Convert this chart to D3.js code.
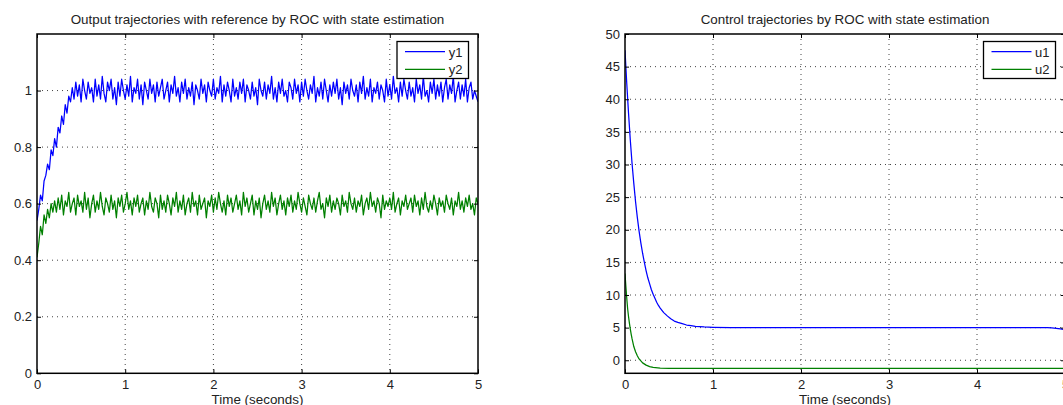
<!DOCTYPE html>
<html>
<head>
<meta charset="utf-8">
<script src="https://cdn.jsdelivr.net/npm/d3@7"></script>
<style>
  html, body { margin: 0; padding: 0; background: #ffffff; }
  svg { display: block; }
  text { font-family: "Liberation Sans", Arial, Helvetica, sans-serif; fill: #222; }
</style>
</head>
<body>
<svg id="chart" width="1063" height="405"></svg>
<script>
// ---------------- DATA ----------------
const sampleStep = 0.02; // sample time of the output trajectories (s)

const y1 = [
  0.54, 0.58, 0.63, 0.61, 0.68, 0.70, 0.74, 0.72, 0.79, 0.77, 0.83, 0.80, 0.87, 0.85, 0.91, 0.88, 0.95, 0.92, 0.98, 0.96, 1.01,
  0.97, 1.03, 0.98, 1.02, 0.96, 1.04, 1.00, 0.97, 1.03, 0.99,
  1.01, 0.96, 1.04, 0.98, 1.02, 0.97, 1.05, 0.99, 0.96, 1.03,
  1.00, 1.04, 0.97, 1.01, 0.95, 1.03, 0.98, 1.04, 1.00, 0.97,
  1.02, 0.98, 1.05, 0.96, 1.01, 0.99, 1.04, 0.97, 1.02, 0.95,
  1.03, 1.00, 0.97, 1.04, 0.99, 1.02, 0.96, 1.03, 0.98, 1.01,
  1.04, 0.97, 1.00, 1.03, 0.96, 1.02, 0.99, 1.05, 0.98, 1.01,
  0.96, 1.03, 0.99, 1.04, 0.97, 1.01, 0.98, 1.03, 0.95, 1.02,
  1.00, 0.97, 1.04, 0.99, 1.02, 0.96, 1.03, 1.00, 0.98, 1.04,
  0.97, 1.01, 0.99, 1.05, 0.96, 1.02, 0.98, 1.03, 1.00, 0.96,
  1.04, 0.98, 1.01, 0.97, 1.03, 0.99, 1.04, 0.96, 1.02, 1.00,
  0.97, 1.03, 0.98, 1.01, 0.95, 1.04, 1.00, 0.98, 1.03, 0.97,
  1.02, 0.99, 1.05, 0.97, 1.01, 0.96, 1.03, 0.99, 1.04, 0.98,
  1.00, 0.96, 1.03, 1.01, 0.97, 1.04, 0.99, 1.02, 0.96, 1.03,
  0.98, 1.04, 1.00, 0.97, 1.02, 0.99, 1.05, 0.96, 1.01, 0.98,
  1.03, 0.97, 1.04, 1.00, 0.96, 1.02, 0.98, 1.03, 0.99, 1.04,
  0.97, 1.01, 0.95, 1.03, 0.99, 1.02, 0.97, 1.04, 1.00, 0.98,
  1.02, 0.96, 1.03, 0.99, 1.05, 0.97, 1.01, 0.98, 1.04, 0.96,
  1.01, 0.99, 1.03, 0.97, 1.02, 1.00, 0.96, 1.04, 0.98, 1.02,
  0.97, 1.05, 0.99, 1.01, 0.96, 1.03, 0.98, 1.04, 1.00, 0.97,
  1.03, 0.98, 1.01, 0.96, 1.04, 0.99, 1.02, 0.97, 1.05, 0.98,
  1.00, 0.96, 1.03, 0.99, 1.04, 0.97, 1.02, 0.98, 1.03, 0.96,
  1.01, 1.04, 0.97, 1.02, 0.99, 1.05, 0.96, 1.00, 1.03, 0.97,
  1.02, 0.98, 1.04, 0.96, 1.01, 1.03, 0.97, 1.00, 0.98, 0.96
];

const y2 = [
  0.41, 0.46, 0.52, 0.49, 0.56, 0.53, 0.58, 0.55, 0.60, 0.57, 0.61,
  0.57, 0.62, 0.58, 0.63, 0.56, 0.61, 0.59, 0.64, 0.57, 0.60,
  0.62, 0.56, 0.63, 0.59, 0.61, 0.57, 0.64, 0.58, 0.62, 0.55,
  0.60, 0.63, 0.57, 0.61, 0.58, 0.64, 0.59, 0.56, 0.62, 0.60,
  0.57, 0.63, 0.58, 0.61, 0.55, 0.62, 0.59, 0.63, 0.57, 0.60,
  0.64, 0.58, 0.61, 0.56, 0.62, 0.59, 0.63, 0.57, 0.60, 0.62,
  0.56, 0.61, 0.58, 0.64, 0.59, 0.57, 0.62, 0.60, 0.55, 0.63,
  0.58, 0.61, 0.57, 0.63, 0.60, 0.56, 0.62, 0.59, 0.64, 0.57,
  0.61, 0.58, 0.63, 0.56, 0.60, 0.62, 0.57, 0.64, 0.59, 0.61,
  0.56, 0.63, 0.58, 0.60, 0.62, 0.55, 0.61, 0.59, 0.63, 0.57,
  0.62, 0.58, 0.64, 0.60, 0.57, 0.61, 0.56, 0.63, 0.59, 0.62,
  0.57, 0.60, 0.63, 0.58, 0.61, 0.56, 0.64, 0.59, 0.62, 0.57,
  0.60, 0.63, 0.56, 0.61, 0.58, 0.62, 0.55, 0.60, 0.63, 0.58,
  0.61, 0.57, 0.64, 0.59, 0.62, 0.56, 0.60, 0.63, 0.58, 0.61,
  0.56, 0.62, 0.59, 0.63, 0.57, 0.61, 0.58, 0.64, 0.60, 0.57,
  0.62, 0.59, 0.56, 0.63, 0.60, 0.58, 0.62, 0.57, 0.61, 0.64,
  0.58, 0.60, 0.55, 0.62, 0.59, 0.63, 0.57, 0.61, 0.58, 0.62,
  0.60, 0.56, 0.63, 0.59, 0.61, 0.57, 0.64, 0.60, 0.58, 0.62,
  0.57, 0.61, 0.59, 0.63, 0.56, 0.60, 0.62, 0.58, 0.64, 0.59,
  0.61, 0.57, 0.62, 0.60, 0.55, 0.63, 0.58, 0.61, 0.59, 0.62,
  0.58, 0.64, 0.57, 0.60, 0.62, 0.56, 0.61, 0.59, 0.63, 0.58,
  0.60, 0.62, 0.57, 0.63, 0.59, 0.61, 0.56, 0.62, 0.58, 0.64,
  0.59, 0.57, 0.61, 0.58, 0.63, 0.60, 0.56, 0.62, 0.59, 0.61,
  0.57, 0.63, 0.60, 0.58, 0.62, 0.56, 0.61, 0.59, 0.64, 0.58,
  0.61, 0.57, 0.62, 0.59, 0.63, 0.58, 0.60, 0.56, 0.62, 0.60
];

const u1Time = [0, 0.02, 0.04, 0.06, 0.08, 0.10, 0.12, 0.14, 0.16, 0.18, 0.20, 0.22, 0.24, 0.26, 0.28, 0.30, 0.32, 0.34, 0.36, 0.38, 0.40, 0.44, 0.48, 0.52, 0.56, 0.60, 0.65, 0.70, 0.75, 0.80, 0.90, 1.0, 1.2, 1.5, 2.0, 2.5, 3.0, 3.5, 4.0, 4.5, 4.8, 4.85, 4.9, 4.95, 5.0];
const u1 = [47.5, 42.4, 37.9, 33.8, 30.2, 27.1, 24.3, 21.9, 19.8, 18.0, 16.4, 15.0, 13.7, 12.6, 11.7, 10.8, 10.1, 9.5, 8.9, 8.4, 8.0, 7.3, 6.8, 6.35, 6.0, 5.8, 5.6, 5.4, 5.3, 5.2, 5.1, 5.05, 5.0, 5.0, 5.0, 5.0, 5.0, 5.0, 5.0, 5.0, 5.0, 4.97, 4.9, 4.8, 4.7];

const u2Time = [0, 0.01, 0.02, 0.03, 0.04, 0.05, 0.06, 0.07, 0.08, 0.10, 0.12, 0.14, 0.16, 0.18, 0.20, 0.24, 0.28, 0.32, 0.40, 0.50, 1.0, 2.0, 3.0, 4.0, 5.0];
const u2 = [13.3, 11.3, 9.5, 7.9, 6.7, 5.7, 4.8, 4.0, 3.3, 2.1, 1.3, 0.7, 0.2, -0.1, -0.4, -0.75, -0.97, -1.1, -1.2, -1.25, -1.25, -1.25, -1.25, -1.25, -1.25];

const xTicks = [0, 1, 2, 3, 4, 5];
const leftYTicks = [0, 0.2, 0.4, 0.6, 0.8, 1];
const rightYTicks = [0, 5, 10, 15, 20, 25, 30, 35, 40, 45, 50];

const leftTitle = "Output trajectories with reference by ROC with state estimation";
const rightTitle = "Control trajectories by ROC with state estimation";
const xLabel = "Time (seconds)";
const leftLegend = ["y1", "y2"];
const rightLegend = ["u1", "u2"];
const colors = ["#0000ff", "#008000"];

// ---------------- DRAW ----------------
const svg = d3.select("#chart");
const FONT = "'Liberation Sans', Arial, Helvetica, sans-serif";

function panel(opt) {
  const { id, x0, x1, yTop, yBot, xDomain, yDomain, yTicks, title, series, legend, legendBox } = opt;
  const x = d3.scaleLinear().domain(xDomain).range([x0, x1]);
  const y = d3.scaleLinear().domain(yDomain).range([yBot, yTop]);
  const g = svg.append("g");

  g.append("clipPath").attr("id", id).append("rect")
    .attr("x", x0).attr("y", yTop).attr("width", x1 - x0).attr("height", yBot - yTop);

  // grid
  const grid = g.append("g");
  xTicks.forEach(t => {
    if (t === xDomain[0] || t === xDomain[1]) return;
    grid.append("line").attr("x1", x(t)).attr("x2", x(t)).attr("y1", yTop).attr("y2", yBot)
      .attr("stroke", "#444").attr("stroke-width", 1).attr("stroke-dasharray", "1,4");
  });
  yTicks.forEach(t => {
    if (t === yDomain[0] || t === yDomain[1]) return;
    grid.append("line").attr("x1", x0).attr("x2", x1).attr("y1", y(t)).attr("y2", y(t))
      .attr("stroke", "#444").attr("stroke-width", 1).attr("stroke-dasharray", "1,4");
  });

  // lines
  const lineGen = d3.line().x(d => x(d[0])).y(d => y(d[1]));
  series.forEach((s, i) => {
    g.append("path").datum(s).attr("clip-path", `url(#${id})`)
      .attr("fill", "none").attr("stroke", colors[i]).attr("stroke-width", 1.25)
      .attr("stroke-linejoin", "round").attr("d", lineGen);
  });

  // axes (ticks inward)
  const axB = g.append("g").attr("transform", `translate(0,${yBot})`)
    .call(d3.axisBottom(x).tickValues(xTicks).tickSize(-4).tickPadding(6).tickFormat(d3.format("d")));
  const axT = g.append("g").attr("transform", `translate(0,${yTop})`)
    .call(d3.axisTop(x).tickValues(xTicks).tickSize(-4).tickFormat(""));
  const axL = g.append("g").attr("transform", `translate(${x0},0)`)
    .call(d3.axisLeft(y).tickValues(yTicks).tickSize(-4).tickPadding(5).tickFormat(d => String(+d.toFixed(2))));
  const axR = g.append("g").attr("transform", `translate(${x1},0)`)
    .call(d3.axisRight(y).tickValues(yTicks).tickSize(-4).tickFormat(""));
  [axB, axT, axL, axR].forEach(a => {
    a.select(".domain").remove();
    a.selectAll(".tick line").attr("stroke", "#000").attr("stroke-width", 1);
    a.selectAll("text").attr("font-size", 13).attr("fill", "#222").attr("font-family", FONT);
  });
  g.append("rect").attr("x", x0).attr("y", yTop).attr("width", x1 - x0).attr("height", yBot - yTop)
    .attr("fill", "none").attr("stroke", "#000").attr("stroke-width", 1.5);

  // title & label
  const cx = (x0 + x1) / 2;
  g.append("text").attr("x", cx).attr("y", 24).attr("text-anchor", "middle")
    .attr("font-size", 13.4).text(title);
  g.append("text").attr("x", cx).attr("y", 403.5).attr("text-anchor", "middle")
    .attr("font-size", 13.4).text(xLabel);

  // legend
  const lb = legendBox;
  const lg = g.append("g");
  lg.append("rect").attr("x", lb.x).attr("y", lb.y).attr("width", lb.w).attr("height", lb.h)
    .attr("fill", "#fff").attr("stroke", "#000").attr("stroke-width", 1.3);
  legend.forEach((name, i) => {
    const ly = lb.y + 10.2 + i * 17.6;
    lg.append("line").attr("x1", lb.x + 8).attr("x2", lb.x + 48).attr("y1", ly).attr("y2", ly)
      .attr("stroke", colors[i]).attr("stroke-width", 1.2);
    lg.append("text").attr("x", lb.x + lb.w - 6).attr("y", ly + 5).attr("text-anchor", "end")
      .attr("font-size", 13).text(name);
  });
}

const ySeries1 = y1.map((v, i) => [i * sampleStep, v]);
const ySeries2 = y2.map((v, i) => [i * sampleStep, v]);
const uSeries1 = u1Time.map((t, i) => [t, u1[i]]);
const uSeries2 = u2Time.map((t, i) => [t, u2[i]]);

panel({
  id: "clipL", x0: 37, x1: 478, yTop: 34, yBot: 373.3,
  xDomain: [0, 5], yDomain: [0, 1.2], yTicks: leftYTicks,
  title: leftTitle, series: [ySeries1, ySeries2], legend: leftLegend,
  legendBox: { x: 397, y: 41.5, w: 71.5, h: 37 }
});

panel({
  id: "clipR", x0: 625, x1: 1065, yTop: 34, yBot: 373.3,
  xDomain: [0, 5], yDomain: [-2, 50], yTicks: rightYTicks,
  title: rightTitle, series: [uSeries1, uSeries2], legend: rightLegend,
  legendBox: { x: 983.5, y: 41.5, w: 72, h: 37 }
});
</script>
</body>
</html>
